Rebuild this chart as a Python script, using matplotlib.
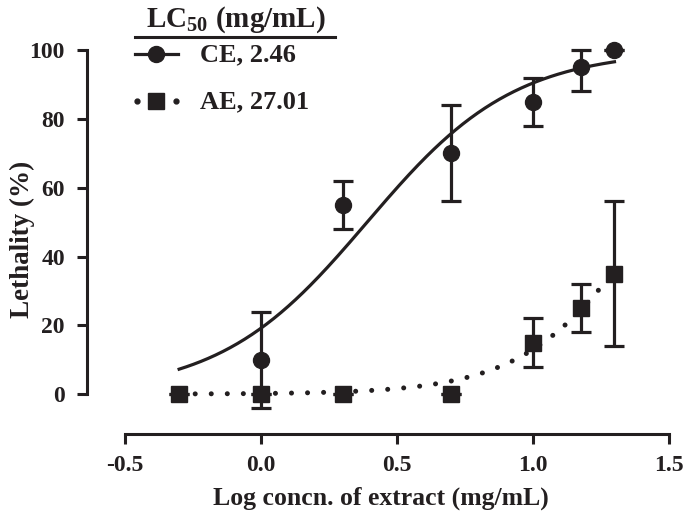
import matplotlib as mpl
mpl.use("Agg")
import matplotlib.pyplot as plt
from matplotlib.lines import Line2D
import numpy as np

plt.rcParams['font.family'] = ['Liberation Serif', 'DejaVu Serif']
plt.rcParams['font.weight'] = 'bold'
plt.rcParams['mathtext.fontset'] = 'custom'
plt.rcParams['mathtext.rm'] = 'Liberation Serif:bold'
plt.rcParams['mathtext.default'] = 'rm'

# Data (log concentration, % lethality, SD)
ce_x = [0.0, 0.301, 0.699, 1.0, 1.176, 1.301]
ce_y = [10, 55, 70, 85, 95, 100]
ce_err_lo = [14, 7, 14, 7, 7, 0]
ce_err_hi = [14, 7, 14, 7, 5, 0]

ae_x = [-0.301, 0.0, 0.301, 0.699, 1.0, 1.176, 1.301]
ae_y = [0, 0, 0, 0, 15, 25, 35]
ae_err_lo = [0, 0, 0, 0, 7, 7, 21]
ae_err_hi = [0, 0, 0, 0, 7, 7, 21]

# fitted LC50 (mg/mL) and hill slopes
ce_lc50, ce_hill = 2.46, 1.6
ae_lc50, ae_hill = 27.01, 1.92

W, H = 685, 518
fig = plt.figure(figsize=(W / 100, H / 100), dpi=100)

def fx(px):
    return px / W

def fy(py):
    return 1 - py / H

ink = '#231f20'
ax = fig.add_axes([fx(87), fy(434), fx(674) - fx(87), fy(45) - fy(434)])
ax.set_xlim(-0.64, 1.52)
ax.set_ylim(-11.6, 101.5)


def hill(x, lc50, h):
    return 100 / (1 + 10 ** ((np.log10(lc50) - x) * h))


xs = np.linspace(-0.301, 1.301, 300)
ax.plot(xs, hill(xs, ce_lc50, ce_hill), color=ink, lw=2.3, zorder=2)
ax.plot(xs, hill(xs, ae_lc50, ae_hill), color=ink, lw=3.6,
        linestyle=(0, (0.01, 3.2)), dash_capstyle='round', zorder=2)

for x, y, lo, hi, m, s in [(ce_x, ce_y, ce_err_lo, ce_err_hi, 'o', 11.5),
                           (ae_x, ae_y, ae_err_lo, ae_err_hi, 's', 11)]:
    eb = ax.errorbar(x, y, yerr=[lo, hi], fmt=m, color=ink, ms=s,
                     elinewidth=2.3, capsize=7, capthick=2.3, zorder=3)
    for art in eb.lines[0:1] + tuple(eb.lines[1]) + tuple(eb.lines[2]):
        art.set_clip_on(False)

for s in ['top', 'right']:
    ax.spines[s].set_visible(False)
for s in ['left', 'bottom']:
    ax.spines[s].set_linewidth(2.2)
    ax.spines[s].set_color(ink)
ax.spines['left'].set_bounds(0, 100)
ax.spines['bottom'].set_bounds(-0.5, 1.5)

ax.set_xticks([-0.5, 0.0, 0.5, 1.0, 1.5])
ax.set_xticklabels(['-0.5', '0.0', '0.5', '1.0', '1.5'])
ax.set_yticks([0, 20, 40, 60, 80, 100])
ax.tick_params(direction='out', length=7, width=2.2, color=ink,
               labelsize=17, labelcolor=ink)
ax.tick_params(axis='x', pad=8)
ax.tick_params(axis='y', pad=9)
for lab in ax.get_xticklabels() + ax.get_yticklabels():
    lab.set_fontweight('bold')

ax.set_xlabel('Log concn. of extract (mg/mL)', fontsize=18.5, fontweight='bold',
              color=ink, labelpad=8)
ax.set_ylabel('Lethality (%)', fontsize=19.5, fontweight='bold', color=ink)
ax.yaxis.set_label_coords(-0.088, 0.5)

# legend drawn by hand
fig.text(fx(236), fy(20), r'LC$_{50}$ (mg/mL)', fontsize=21, fontweight='bold',
         color=ink, ha='center', va='center')
fig.add_artist(Line2D([fx(135), fx(335)], [fy(37), fy(37)], color=ink,
                      lw=2.2, transform=fig.transFigure))
fig.add_artist(Line2D([fx(135), fx(178)], [fy(54), fy(54)], color=ink,
                      lw=2.3, transform=fig.transFigure))
fig.add_artist(Line2D([fx(156)], [fy(54)], marker='o', ms=11.5, color=ink,
                      transform=fig.transFigure))
fig.add_artist(Line2D([fx(137), fx(176)], [fy(101), fy(101)], marker='.', ms=7,
                      linestyle='none', color=ink, transform=fig.transFigure))
fig.add_artist(Line2D([fx(156)], [fy(101)], marker='s', ms=11, color=ink,
                      transform=fig.transFigure))
fig.text(fx(200), fy(55), 'CE, 2.46', fontsize=19, fontweight='bold',
         color=ink, ha='left', va='center')
fig.text(fx(200), fy(102), 'AE, 27.01', fontsize=19, fontweight='bold',
         color=ink, ha='left', va='center')

fig.savefig('out.png', dpi=100)
